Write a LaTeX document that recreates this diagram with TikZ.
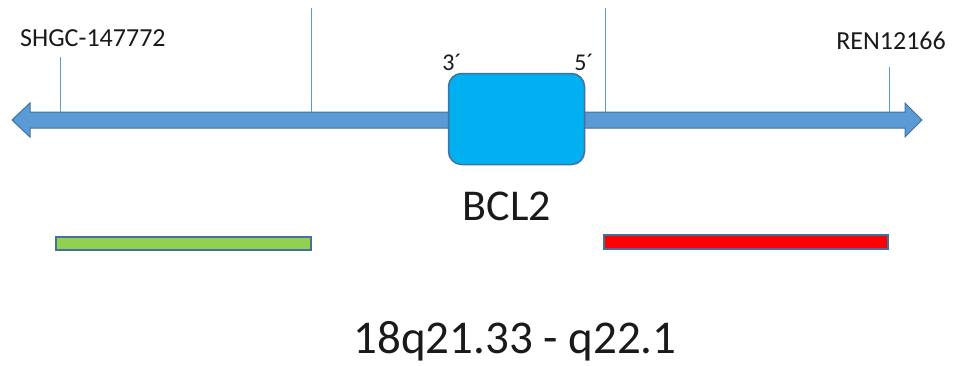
\documentclass[tikz,border=0pt]{standalone}
\usepackage{fontspec}
\setmainfont{Carlito}
\definecolor{arrowblue}{HTML}{5B9BD5}
\definecolor{edgeblue}{HTML}{41719C}
\definecolor{boxblue}{HTML}{00B0F0}
\definecolor{barGreen}{HTML}{92D050}
\definecolor{barRed}{HTML}{FF0000}
\definecolor{txt}{HTML}{1A1A1A}
\begin{document}
\begin{tikzpicture}[x=1pt,y=-1pt,
  tick/.style={draw=arrowblue,line width=0.8pt},
  lbl/.style={font=\fontsize{26}{28}\selectfont,text=txt,inner sep=0pt},
  prime/.style={font=\fontsize{24}{26}\selectfont,text=txt,inner sep=0pt},
  bar/.style={draw=edgeblue,line width=2pt}]
\useasboundingbox (0,0) rectangle (955,365);
% double arrow
\draw[edgeblue,line width=1pt,fill=arrowblue,line join=miter]
  (12,120) -- (30,103) -- (30,112) -- (905,112) -- (905,103) -- (922,120)
  -- (905,137) -- (905,128) -- (30,128) -- (30,137) -- cycle;
% tick lines
\coordinate (t1) at (60,57);   \coordinate (b1) at (60,112);
\coordinate (t2) at (311,8);   \coordinate (b2) at (311,112);
\coordinate (t3) at (605,8);   \coordinate (b3) at (605,112);
\coordinate (t4) at (889,67);  \coordinate (b4) at (889,112);
\draw[tick] (t1) -- (b1);
\draw[tick] (t2) -- (b2);
\draw[tick] (t3) -- (b3);
\draw[tick] (t4) -- (b4);
% gene box
\node[draw=edgeblue,line width=1.5pt,fill=boxblue,rounded corners=13pt,
  minimum width=136pt,minimum height=91pt,inner sep=0pt] (bcl2) at (516.5,119) {};
% labels
\node[lbl,anchor=base west] (shgc) at (20,46) {SHGC-147772};
\node[lbl,anchor=base east] (ren) at (946,49) {REN12166};
\node[prime,anchor=base] (p3) at (452,70) {3´};
\node[prime,anchor=base] (p5) at (584,70) {5´};
\node[font=\fontsize{44}{48}\selectfont,text=txt,inner sep=0pt,anchor=base] (name) at (507,220) {BCL2};
\node[font=\fontsize{47}{50}\selectfont,text=txt,inner sep=0pt,anchor=base] (band) at (515,353) {18q21.33 - q22.1};
% bars
\node[bar,fill=barGreen,minimum width=255pt,minimum height=13pt,inner sep=0pt] (gbar) at (183,243) {};
\node[bar,fill=barRed,minimum width=284pt,minimum height=14pt,inner sep=0pt] (rbar) at (746,241.5) {};
\end{tikzpicture}
\end{document}
